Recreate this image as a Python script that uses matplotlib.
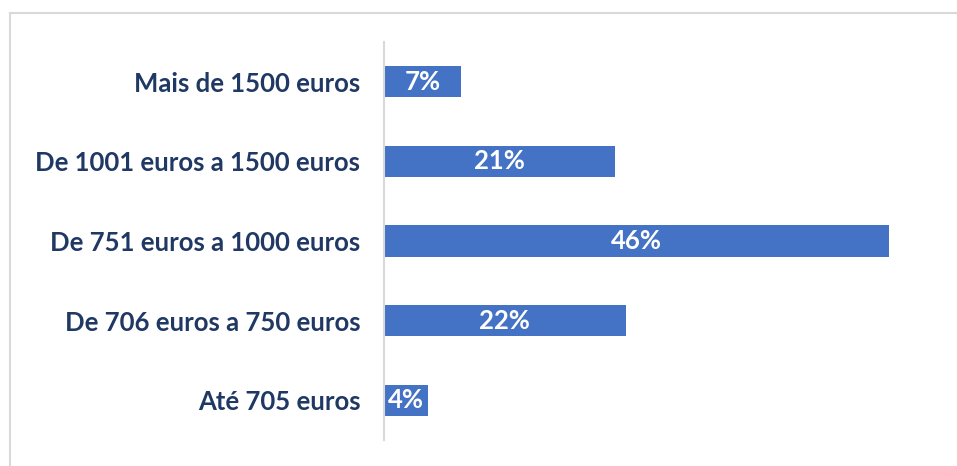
import matplotlib.pyplot as plt
from matplotlib.lines import Line2D

categories = ['Até 705 euros', 'De 706 euros a 750 euros', 'De 751 euros a 1000 euros',
              'De 1001 euros a 1500 euros', 'Mais de 1500 euros']
values = [4, 22, 46, 21, 7]
labels = ['4%', '22%', '46%', '21%', '7%']

bar_color = '#4472C4'
text_color = '#203864'

plt.rcParams['font.family'] = ['Lato', 'DejaVu Sans']

fig = plt.figure(figsize=(9.57, 4.66), dpi=100)
ax = fig.add_axes([384 / 957, 26 / 466, (889 - 384) / 957, 398 / 466])

bars = ax.barh(range(len(values)), values, height=0.39, color=bar_color)
ax.set_xlim(0, 46)
ax.set_ylim(-0.5, 4.5)

for b, lab in zip(bars, labels):
    ax.text(b.get_width() / 2, b.get_y() + b.get_height() / 2, lab,
            ha='center', va='center', color='white', fontsize=18.5, fontweight='bold')

ax.set_yticks(range(len(categories)))
ax.set_yticklabels(categories, fontsize=18.5, fontweight='bold', color=text_color)
ax.tick_params(axis='y', length=0, pad=17)
ax.set_xticks([])
for s in ['top', 'right', 'bottom']:
    ax.spines[s].set_visible(False)
ax.spines['left'].set_color('#D9D9D9')
ax.spines['left'].set_linewidth(1.5)

# outer frame (top and left edges only visible)
fig.add_artist(Line2D([9.5 / 957, 1.0], [1 - 12.5 / 466, 1 - 12.5 / 466],
                      transform=fig.transFigure, color='#D9D9D9', lw=1.5))
fig.add_artist(Line2D([9.5 / 957, 9.5 / 957], [0, 1 - 12.5 / 466],
                      transform=fig.transFigure, color='#D9D9D9', lw=1.5))

fig.savefig('out.png', dpi=100)
